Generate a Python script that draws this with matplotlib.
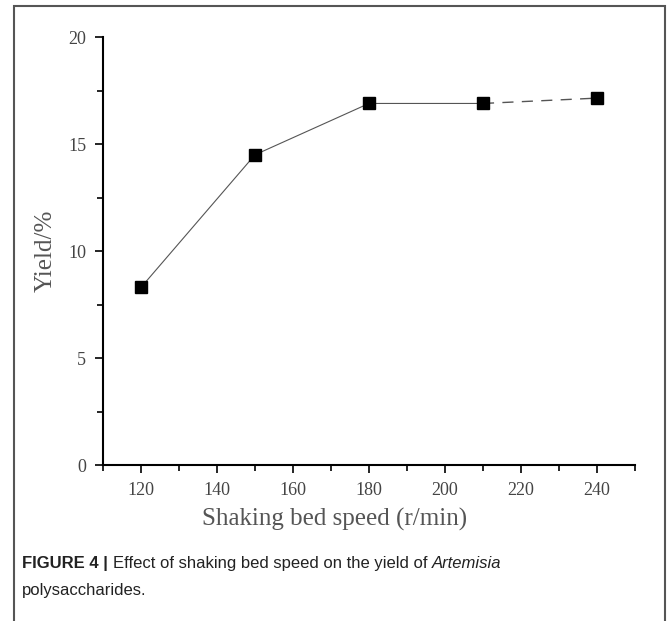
import matplotlib
matplotlib.use('Agg')
import matplotlib.pyplot as plt
from matplotlib.patches import Rectangle
from matplotlib.ticker import MultipleLocator

# shaking bed speed (r/min) vs polysaccharide yield (%)
speed = [120, 150, 180, 210, 240]
yield_pct = [8.3, 14.5, 16.9, 16.9, 17.15]

xticks = [120, 140, 160, 180, 200, 220, 240]
yticks = [0, 5, 10, 15, 20]

serif = ['Liberation Serif', 'DejaVu Serif']
sans = ['Liberation Sans', 'DejaVu Sans']

fig = plt.figure(figsize=(6.70, 6.21), dpi=100)
ax = fig.add_axes([0.1537, 0.2512, 0.794, 0.689])

# first four points joined by a thin solid line, last segment dashed
ax.plot(speed[:4], yield_pct[:4], color='#555555', lw=0.8, zorder=2)
ax.plot(speed[3:], yield_pct[3:], color='#555555', lw=1.0, ls=(0, (8, 6)), zorder=2)
ax.plot(speed, yield_pct, ls='none', marker='s', ms=8, color='black', zorder=3)

ax.set_xlim(110, 250)
ax.set_ylim(0, 20)
ax.set_xticks(xticks)
ax.set_yticks(yticks)
ax.xaxis.set_minor_locator(MultipleLocator(10))
ax.yaxis.set_minor_locator(MultipleLocator(2.5))
ax.tick_params(which='major', direction='out', length=6, width=1.2, labelsize=13, pad=6)
ax.tick_params(which='minor', direction='out', length=4, width=1.2)
for lab in ax.get_xticklabels() + ax.get_yticklabels():
    lab.set_family(serif)
    lab.set_color('#444444')

for side in ['top', 'right']:
    ax.spines[side].set_visible(False)
for side in ['left', 'bottom']:
    ax.spines[side].set_linewidth(1.5)

ax.set_xlabel('Shaking bed speed (r/min)', family=serif, fontsize=18, color='#555555', labelpad=8)
ax.set_ylabel('Yield/%', family=serif, fontsize=18, color='#555555', labelpad=8)
ax.xaxis.set_label_coords(0.435, -0.1)

# frame around figure and caption
fig.patches.append(Rectangle((14 / 670, -0.05), 651 / 670, 1.05 - 6 / 621, transform=fig.transFigure,
                             fill=False, edgecolor='#555555', lw=1.5))

cap_y1 = 1 - 568 / 621
cap_y2 = 1 - 595 / 621
fs = 12
head = fig.text(22 / 670, cap_y1, 'FIGURE 4 | ', family=sans, fontweight='bold', fontsize=fs,
                color='#222222', va='baseline')
fig.text(22 / 670, cap_y2, 'polysaccharides.', family=sans, fontsize=fs,
         color='#222222', va='baseline')

# place caption pieces one after another
fig.canvas.draw()
x = head.get_window_extent().x1 / fig.bbox.width
body = fig.text(x, cap_y1, 'Effect of shaking bed speed on the yield of ', family=sans,
                fontsize=fs, color='#222222', va='baseline')
fig.canvas.draw()
x = body.get_window_extent().x1 / fig.bbox.width
fig.text(x, cap_y1, 'Artemisia', family=sans, style='italic',
         fontsize=fs, color='#222222', va='baseline')

fig.savefig('out.png', dpi=100)
